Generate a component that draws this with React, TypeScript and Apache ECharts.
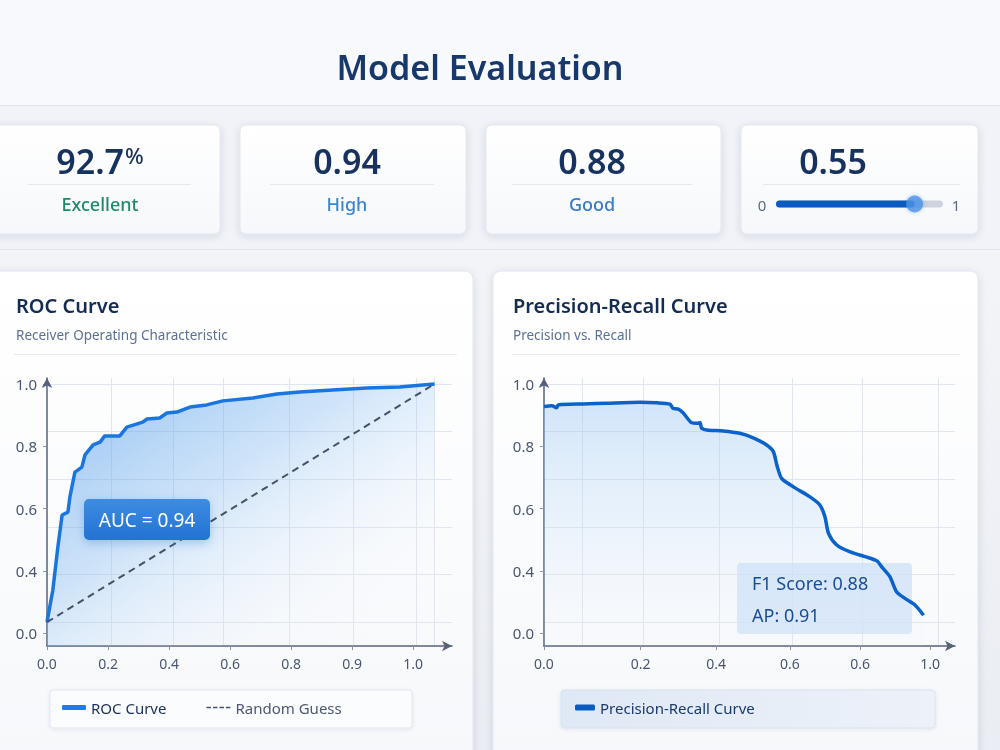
import React, { useEffect, useRef } from 'react';
import * as echarts from 'echarts';

// ---------------- data ----------------
const pageTitle = 'Model Evaluation';
const kpiValues = ['92.7', '0.94', '0.88', '0.55'];
const kpiUnits = ['%', '', '', ''];
const kpiLabels = ['Excellent', 'High', 'Good', ''];
const thresholdSliderPosition = 0.83;
const sliderEnds = ['0', '1'];

const rocFpr = [0, 0.015, 0.028, 0.039, 0.054, 0.059, 0.072, 0.09, 0.098, 0.119, 0.137, 0.149, 0.188, 0.206, 0.247, 0.258, 0.291, 0.309, 0.335, 0.369, 0.412, 0.454, 0.531, 0.593, 0.652, 0.737, 0.825, 0.91, 1.0];
const rocTpr = [0, 0.134, 0.315, 0.45, 0.462, 0.525, 0.63, 0.651, 0.702, 0.744, 0.756, 0.782, 0.782, 0.819, 0.84, 0.853, 0.857, 0.878, 0.882, 0.903, 0.912, 0.929, 0.941, 0.958, 0.966, 0.975, 0.983, 0.987, 1.0];
const randomGuessX = [0, 1];
const randomGuessY = [0, 1];

const prRecall = [0, 0.02, 0.032, 0.036, 0.1, 0.159, 0.244, 0.286, 0.32, 0.327, 0.341, 0.354, 0.375, 0.388, 0.396, 0.4, 0.413, 0.455, 0.497, 0.531, 0.565, 0.582, 0.592, 0.603, 0.633, 0.675, 0.7, 0.713, 0.722, 0.743, 0.777, 0.844, 0.857, 0.878, 0.895, 0.916, 0.942, 0.963];
const prPrecision = [0.905, 0.908, 0.9, 0.912, 0.916, 0.919, 0.923, 0.921, 0.915, 0.898, 0.894, 0.877, 0.837, 0.835, 0.837, 0.814, 0.807, 0.803, 0.793, 0.774, 0.744, 0.716, 0.653, 0.604, 0.568, 0.526, 0.492, 0.442, 0.373, 0.324, 0.295, 0.258, 0.232, 0.19, 0.127, 0.1, 0.071, 0.029];

const rocXTickLabels = ['0.0', '0.2', '0.4', '0.6', '0.8', '0.9', '1.0'];
const prXTickLabels = ['0.0', '0.2', '0.4', '0.6', '0.6', '1.0'];
const yTickLabels = ['0.0', '0.4', '0.6', '0.8', '1.0'];

const aucValue = '0.94';
const f1Value = '0.88';
const apValue = '0.91';

const rocTitle = 'ROC Curve';
const rocSubtitle = 'Receiver Operating Characteristic';
const prTitle = 'Precision-Recall Curve';
const prSubtitle = 'Precision vs. Recall';
const rocSeriesName = 'ROC Curve';
const randomSeriesName = 'Random Guess';
const prSeriesName = 'Precision-Recall Curve';

// ---------------- layout (positions of labels / grid lines in axis units) ----------------
const rocXLabelAt = [0, 0.1575, 0.315, 0.4725, 0.63, 0.7875, 0.945];
const prXLabelAt = [0, 0.245, 0.437, 0.624, 0.802, 0.98];
const yLabelAt = [-0.046, 0.215, 0.477, 0.738, 1.0];
const rocXGridAt = [0.165, 0.325, 0.456, 0.624, 0.791, 0.954, 1.0];
const prXGridAt = [0.096, 0.251, 0.444, 0.629, 0.807, 1.0];
const yGridAt = [0, 0.2, 0.4, 0.6, 0.8, 1.0];

const FONT = "'Noto Sans', 'Open Sans', 'DejaVu Sans', sans-serif";
const DASH_ICON = 'path://M0,0h7v2h-7z M10,0h7v2h-7z M20,0h7v2h-7z M30,0h7v2h-7z';

const pair = (xs: number[], ys: number[]) => xs.map((x, i) => [x, ys[i]]);

const fmt = (at: number[], labels: string[]) => (v: number) => {
  let best = 0;
  let d = Infinity;
  at.forEach((a, i) => {
    const dd = Math.abs(a - v);
    if (dd < d) { d = dd; best = i; }
  });
  return labels[best];
};

const mainAxis = (dim: 'x' | 'y', gridIndex: number, min: number, max: number, at: number[], labels: string[]) => ({
  type: 'value',
  gridIndex,
  min,
  max,
  axisLine: {
    show: true,
    onZero: false,
    symbol: ['none', 'arrow'],
    symbolSize: [8, 10],
    lineStyle: { color: '#56627c', width: 1.5 },
  },
  axisTick: { show: true, customValues: at, length: 4, lineStyle: { color: '#8a94a8' } },
  axisLabel: {
    customValues: at,
    formatter: fmt(at, labels),
    color: '#4a5670',
    fontSize: dim === 'x' ? 14 : 15,
    fontFamily: FONT,
    margin: 10,
  },
  splitLine: { show: false },
});

const splitAxis = (gridIndex: number, min: number, max: number, at: number[]) => ({
  type: 'value',
  gridIndex,
  min,
  max,
  axisLine: { show: false },
  axisTick: { show: false, customValues: at },
  axisLabel: { show: false },
  splitLine: { show: true, lineStyle: { color: '#e1e5ed', width: 1 } },
});

const txt = (x: number, y: number, text: string, size: number, color: string, o: any = {}) => ({
  type: 'text',
  x,
  y,
  z: o.z ?? 5,
  style: {
    text,
    fill: color,
    fontSize: size,
    fontWeight: o.weight ?? 400,
    fontFamily: FONT,
    align: o.align ?? 'left',
    textAlign: o.align ?? 'left',
    verticalAlign: 'middle',
    textVerticalAlign: 'middle',
    ...(o.style || {}),
  },
});

const hline = (x1: number, x2: number, y: number, color: string, z = -5) => ({
  type: 'line',
  z,
  shape: { x1, y1: y, x2, y2: y },
  style: { stroke: color, lineWidth: 1 },
});

const card = (x: number, y: number, w: number, h: number, r: number) => ({
  type: 'rect',
  z: -10,
  shape: { x, y, width: w, height: h, r },
  style: {
    fill: new echarts.graphic.LinearGradient(0, 0, 0, 1, [
      { offset: 0, color: '#ffffff' },
      { offset: 1, color: '#f6f8fb' },
    ]),
    stroke: '#e2e6ee',
    lineWidth: 1,
    shadowBlur: 8,
    shadowOffsetY: 2,
    shadowColor: 'rgba(30,50,90,0.12)',
  },
});

function buildOption() {
  const kpiCards = [
    { x: -14, w: 234, cx: 100, dx1: 28, dx2: 191 },
    { x: 240, w: 226, cx: 347, dx1: 270, dx2: 434 },
    { x: 486, w: 235, cx: 592, dx1: 512, dx2: 692 },
    { x: 741, w: 237, cx: 833, dx1: 763, dx2: 960 },
  ];
  const labelColors = ['#1f8a6b', '#3a86d6', '#3a7cc8', '#3a7cc8'];

  const graphic: any[] = [
    {
      type: 'rect', z: -20, shape: { x: 0, y: 0, width: 1000, height: 750 },
      style: {
        fill: new echarts.graphic.LinearGradient(0, 0, 0, 1, [
          { offset: 0, color: '#f7f8fb' },
          { offset: 1, color: '#eaedf3' },
        ]),
      },
    },
    { type: 'rect', z: -19, shape: { x: 0, y: 0, width: 1000, height: 105 }, style: { fill: '#f8f9fc' } },
    { type: 'rect', z: -19, shape: { x: 0, y: 106, width: 1000, height: 143 }, style: { fill: '#f1f3f8' } },
    hline(0, 1000, 105.5, '#dde2ea', -18),
    hline(0, 1000, 249.5, '#e0e4ec', -18),
    txt(480, 67, pageTitle, 34, '#17386b', { align: 'center', weight: 600 }),
  ];

  kpiCards.forEach((c, i) => {
    graphic.push(card(c.x, 125, c.w, 109, 6));
    graphic.push(hline(c.dx1, c.dx2, 184.5, '#e5e9ef', 1));
    const unit = kpiUnits[i];
    graphic.push({
      type: 'text',
      x: c.cx,
      y: 161,
      z: 5,
      style: {
        text: unit ? `{v|${kpiValues[i]}}{u|${unit}}` : `{v|${kpiValues[i]}}`,
        align: 'center',
        textAlign: 'center',
        verticalAlign: 'middle',
        textVerticalAlign: 'middle',
        rich: {
          v: { fontSize: 34, fontWeight: 600, fill: '#17325e', color: '#17325e', fontFamily: FONT },
          u: { fontSize: 22, fontWeight: 500, fill: '#17325e', color: '#17325e', fontFamily: FONT, verticalAlign: 'top', padding: [0, 0, 10, 1] },
        },
      },
    });
    if (kpiLabels[i]) {
      graphic.push(txt(c.cx, 204, kpiLabels[i], 18, labelColors[i], { align: 'center', weight: 500 }));
    }
  });
  graphic.push(txt(762, 205, sliderEnds[0], 15, '#5a6a85', { align: 'center' }));
  graphic.push(txt(956, 205, sliderEnds[1], 15, '#5a6a85', { align: 'center' }));

  // chart cards
  graphic.push(card(-12, 271, 485, 500, 8));
  graphic.push(card(493, 271, 485, 500, 8));
  graphic.push(txt(16, 305, rocTitle, 20, '#152c52', { weight: 600 }));
  graphic.push(txt(16, 335, rocSubtitle, 13.5, '#5d7094'));
  graphic.push(hline(14, 457, 354.5, '#e6eaf0'));
  graphic.push(txt(513, 305, prTitle, 20, '#152c52', { weight: 600 }));
  graphic.push(txt(513, 335, prSubtitle, 13.5, '#5d7094'));
  graphic.push(hline(512, 960, 354.5, '#e6eaf0'));

  // legend boxes
  graphic.push({
    type: 'rect', z: -5, shape: { x: 50, y: 690, width: 362, height: 38, r: 3 },
    style: { fill: '#fbfcfe', stroke: '#e1e6ee', lineWidth: 1, shadowBlur: 4, shadowOffsetY: 1, shadowColor: 'rgba(30,50,90,0.08)' },
  });
  graphic.push({
    type: 'rect', z: -5, shape: { x: 561, y: 690, width: 374, height: 38, r: 3 },
    style: {
      fill: new echarts.graphic.LinearGradient(0, 0, 1, 0, [
        { offset: 0, color: '#dfe8f5' },
        { offset: 1, color: '#edf2f9' },
      ]),
      stroke: '#d9e2ee', lineWidth: 1, shadowBlur: 4, shadowOffsetY: 1, shadowColor: 'rgba(30,50,90,0.08)',
    },
  });

  // AUC annotation
  graphic.push({
    type: 'rect', z: 10, shape: { x: 84, y: 499, width: 126, height: 41, r: 5 },
    style: {
      fill: new echarts.graphic.LinearGradient(0, 0, 0, 1, [
        { offset: 0, color: '#3d8ce2' },
        { offset: 1, color: '#2373d3' },
      ]),
      shadowBlur: 10, shadowOffsetY: 3, shadowColor: 'rgba(30,100,200,0.3)',
    },
  });
  graphic.push(txt(147, 520, `AUC = ${aucValue}`, 19, '#ffffff', { align: 'center', z: 11 }));

  // F1 / AP annotation
  graphic.push({
    type: 'rect', z: 1, shape: { x: 737, y: 563, width: 175, height: 71, r: 4 },
    style: { fill: 'rgba(205,224,247,0.75)' },
  });
  graphic.push(txt(752, 583, `F1 Score: ${f1Value}`, 18, '#1a4d94', { z: 11 }));
  graphic.push(txt(752, 615, `AP: ${apValue}`, 18, '#1a4d94', { z: 11 }));

  const yMin = -0.1;
  const yMax = 1.025;

  return {
    animation: false,
    textStyle: { fontFamily: FONT },
    graphic,
    grid: [
      { left: 47, top: 378, width: 405, height: 268 },
      { left: 544, top: 378, width: 411, height: 268 },
      { left: 776, top: 200, width: 167, height: 8 },
    ],
    xAxis: [
      mainAxis('x', 0, 0, 1.045, rocXLabelAt, rocXTickLabels),
      splitAxis(0, 0, 1.045, rocXGridAt),
      mainAxis('x', 1, 0, 1.043, prXLabelAt, prXTickLabels),
      splitAxis(1, 0, 1.043, prXGridAt),
      { type: 'value', gridIndex: 2, min: 0, max: 1, show: false },
    ],
    yAxis: [
      mainAxis('y', 0, yMin, yMax, yLabelAt, yTickLabels),
      splitAxis(0, yMin, yMax, yGridAt),
      mainAxis('y', 1, yMin, yMax, yLabelAt, yTickLabels),
      splitAxis(1, yMin, yMax, yGridAt),
      { type: 'category', gridIndex: 2, data: [''], show: false },
    ],
    legend: [
      {
        left: 62,
        top: 700,
        padding: 0,
        itemGap: 40,
        itemWidth: 24,
        itemHeight: 5,
        selectedMode: false,
        textStyle: { fontSize: 15, fontFamily: FONT },
        data: [
          { name: rocSeriesName, icon: 'roundRect', itemStyle: { color: '#1f7be6' }, textStyle: { color: '#1a2f55' } },
          { name: randomSeriesName, icon: DASH_ICON, itemStyle: { color: '#46506a' }, textStyle: { color: '#4d5873' } },
        ],
      },
      {
        left: 575,
        top: 700,
        padding: 0,
        itemWidth: 20,
        itemHeight: 6,
        selectedMode: false,
        textStyle: { fontSize: 15, fontFamily: FONT, color: '#1a3a6b' },
        data: [{ name: prSeriesName, icon: 'roundRect', itemStyle: { color: '#0a5cc0' } }],
      },
    ],
    series: [
      {
        name: rocSeriesName,
        type: 'line',
        xAxisIndex: 0,
        yAxisIndex: 0,
        data: pair(rocFpr, rocTpr),
        showSymbol: false,
        symbol: 'none',
        z: 3,
        lineStyle: { color: '#1a76de', width: 3.5 },
        itemStyle: { color: '#1f7be6' },
        areaStyle: {
          origin: 'start',
          color: new echarts.graphic.LinearGradient(0, 0, 1, 1, [
            { offset: 0, color: 'rgba(55,140,232,0.8)' },
            { offset: 0.4, color: 'rgba(120,180,240,0.5)' },
            { offset: 0.75, color: 'rgba(210,230,250,0.12)' },
            { offset: 1, color: 'rgba(255,255,255,0)' },
          ]),
        },
      },
      {
        name: randomSeriesName,
        type: 'line',
        xAxisIndex: 0,
        yAxisIndex: 0,
        data: pair(randomGuessX, randomGuessY),
        showSymbol: false,
        symbol: 'none',
        z: 4,
        lineStyle: { color: '#46506a', width: 2, type: [7, 5] },
        itemStyle: { color: '#46506a' },
      },
      {
        name: prSeriesName,
        type: 'line',
        xAxisIndex: 2,
        yAxisIndex: 2,
        data: pair(prRecall, prPrecision),
        showSymbol: false,
        symbol: 'none',
        smooth: 0.25,
        z: 3,
        lineStyle: { color: '#0a62cc', width: 3.5 },
        itemStyle: { color: '#0a5cc0' },
        areaStyle: {
          origin: 'start',
          color: new echarts.graphic.LinearGradient(0, 0, 0, 1, [
            { offset: 0, color: 'rgba(150,195,243,0.6)' },
            { offset: 0.6, color: 'rgba(200,225,248,0.35)' },
            { offset: 1, color: 'rgba(235,243,252,0.1)' },
          ]),
        },
      },
      {
        type: 'bar',
        xAxisIndex: 4,
        yAxisIndex: 4,
        data: [thresholdSliderPosition],
        barWidth: 7,
        showBackground: true,
        backgroundStyle: { color: '#cdd4de', borderRadius: 4 },
        itemStyle: { color: '#0a5cc0', borderRadius: 4 },
        z: 3,
      },
      {
        type: 'scatter',
        xAxisIndex: 4,
        yAxisIndex: 4,
        data: [[thresholdSliderPosition, 0]],
        symbolSize: 17,
        itemStyle: { color: '#4b93ea', shadowBlur: 4, shadowColor: 'rgba(20,80,160,0.35)' },
        z: 4,
      },
    ],
  };
}

export default function App() {
  const ref = useRef<HTMLDivElement>(null);
  useEffect(() => {
    if (!ref.current) return;
    const chart = echarts.init(ref.current, undefined, { renderer: 'svg' });
    chart.setOption(buildOption() as any);
    return () => chart.dispose();
  }, []);
  return (
    <div
      ref={ref}
      style={{ position: 'fixed', left: 0, top: 0, width: 1000, height: 750 }}
    />
  );
}
